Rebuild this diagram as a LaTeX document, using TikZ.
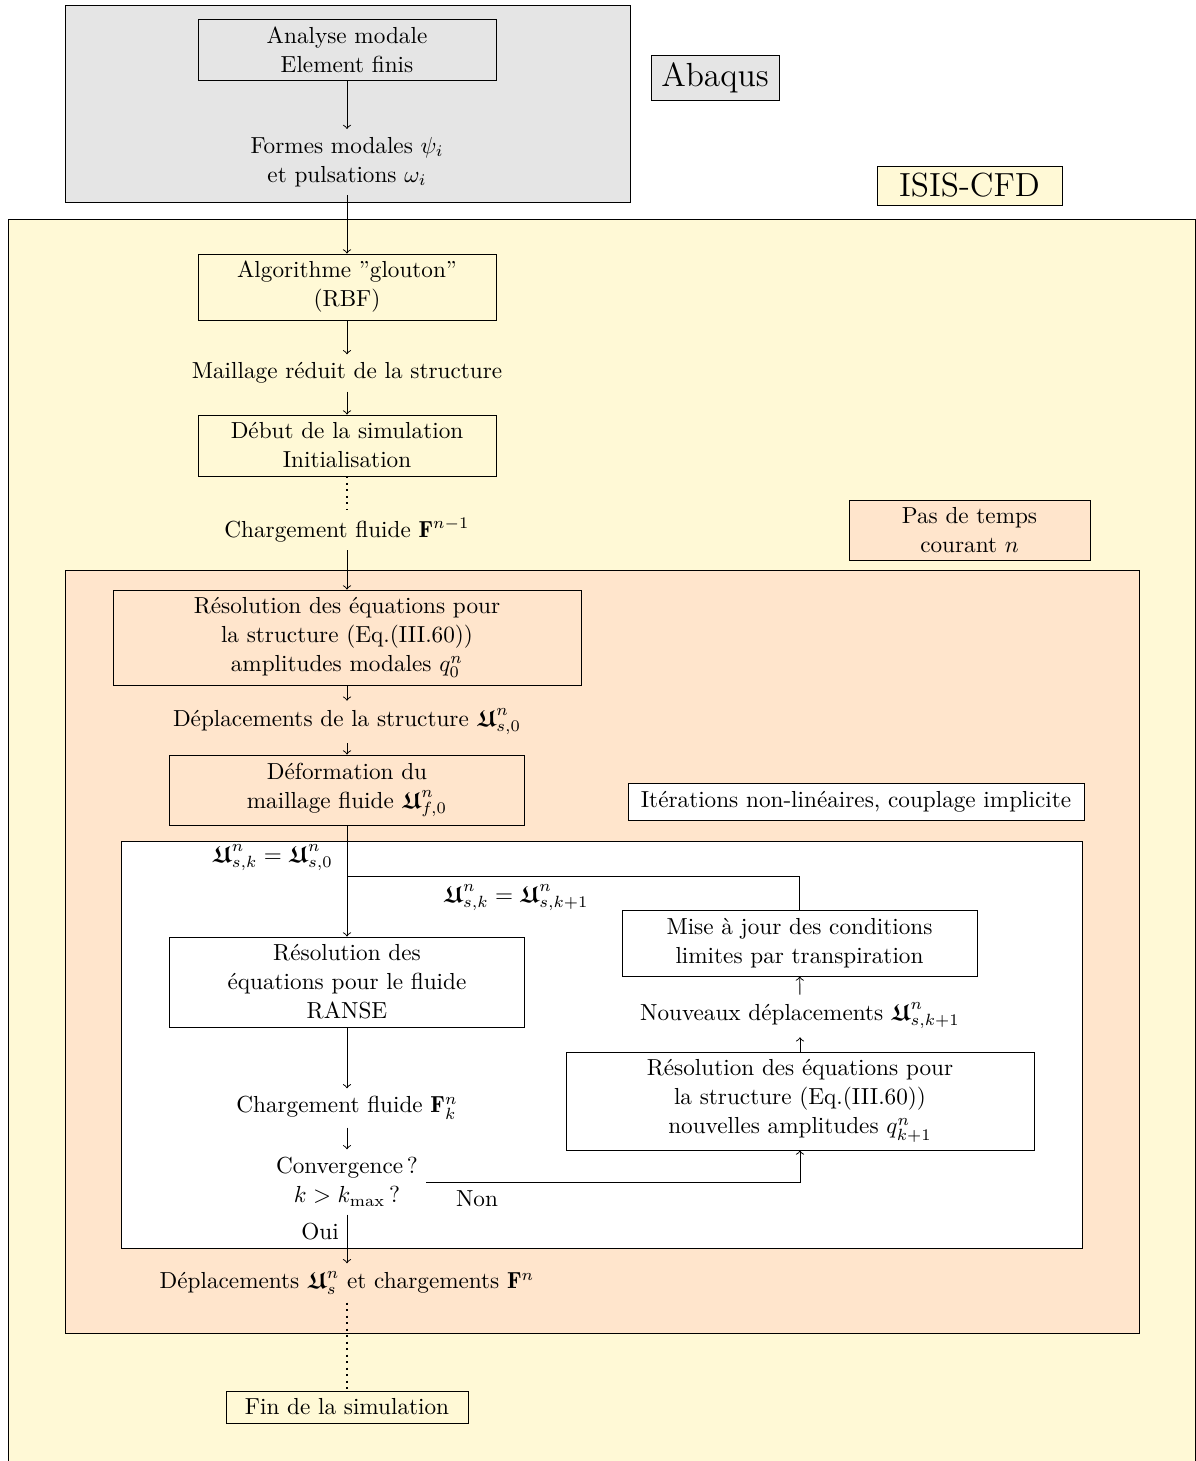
\documentclass[tikz,border=0pt]{standalone}
\usepackage{amsmath,amssymb,bm}
\usepackage{fontspec}
\definecolor{cream}{RGB}{255,249,214}
\definecolor{peach}{RGB}{255,229,204}
\definecolor{greyfill}{RGB}{229,229,229}
\newcommand\FU{\bm{\mathfrak{U}}}
\begin{document}
\begin{tikzpicture}[x=0.431pt,y=-0.431pt,
  every node/.style={font=\fontsize{10}{12.5}\selectfont, align=center},
  bx/.style 2 args={draw, minimum width={#1*0.431pt}, minimum height={#2*0.431pt}, inner sep=1pt},
  dots/.style={dotted, line width=0.8pt}]
\useasboundingbox (0,0) rectangle (1196,1461);
% background regions
\draw[fill=cream] (8,219) rectangle (1195,1490);
\draw[fill=greyfill] (65,5) rectangle (630,202);
\draw[fill=peach] (65,570) rectangle (1139,1333);
\draw[fill=white] (121,841) rectangle (1082,1248);
% nodes
\node[bx={298}{61}] (ana) at (347,49.5) {Analyse modale\\Element finis};
\node (formes) at (347,162) {Formes modales $\psi_i$\\et pulsations $\omega_i$};
\node[bx={128}{45}, fill=greyfill, font=\Large] (abaqus) at (715,77.5) {Abaqus};
\node[bx={185}{39}, fill=cream, font=\Large] (isis) at (969.5,185.5) {ISIS-CFD};
\node[bx={298}{66}] (algo) at (347,287) {Algorithme ”glouton”\\(RBF)};
\node (maill) at (347,373) {Maillage réduit de la structure};
\node[bx={298}{61}] (debut) at (347,445.5) {Début de la simulation\\Initialisation};
\node (charg1) at (347,530) {Chargement fluide $\mathbf{F}^{n-1}$};
\node[bx={241}{60}, fill=peach] (pas) at (969.5,530) {Pas de temps\\courant $n$};
\node[bx={468}{95}] (rs1) at (347,637.5) {Résolution des équations pour\\la structure (Eq.(III.60))\\amplitudes modales $q_0^n$};
\node (depl0) at (347,722) {Déplacements de la structure $\FU^n_{s,0}$};
\node[bx={355}{70}] (deform) at (347,790) {Déformation du\\maillage fluide $\FU^n_{f,0}$};
\node[bx={456}{37}, fill=white] (iter) at (856,801.5) {Itérations non-linéaires, couplage implicite};
\node[anchor=east] (lab1) at (341,858) {$\FU^n_{s,k} = \FU^n_{s,0}$};
\node (lab2) at (516,898) {$\FU^n_{s,k} = \FU^n_{s,k+1}$};
\node[bx={355}{90}] (fluide) at (347,982) {Résolution des\\équations pour le fluide\\RANSE};
\node (chk) at (347,1108) {Chargement fluide $\mathbf{F}^n_k$};
\node (conv) at (347,1182) {Convergence\,?\\$k > k_{\max}$\,?};
\node (non) at (477,1199) {Non};
\node (dfin) at (347,1283) {Déplacements $\FU^n_s$ et chargements $\mathbf{F}^n$};
\node[bx={242}{32}, fill=cream] (fin) at (347,1407) {Fin de la simulation};
\node[bx={355}{66}] (maj) at (799.5,943) {Mise à jour des conditions\\limites par transpiration};
\node (nouv) at (800,1016) {Nouveaux déplacements $\FU^n_{s,k+1}$};
\node[bx={468}{98}] (rs2) at (800,1101) {Résolution des équations pour\\la structure (Eq.(III.60))\\nouvelles amplitudes $q^n_{k+1}$};
% connectors
\draw[->] (ana) -- (formes);
\draw[->] (formes) -- (algo);
\draw[->] (algo) -- (maill);
\draw[->] (maill) -- (debut);
\draw[dots] (debut) -- (charg1);
\draw[->] (charg1) -- (rs1);
\draw[->] (rs1) -- (depl0);
\draw[->] (depl0) -- (deform);
\draw[->] (deform) -- (fluide);
\coordinate (join) at (347,876);
\draw (maj.north) |- (join);
\draw[->] (fluide) -- (chk);
\draw[->] (chk) -- (conv);
\draw[->] (conv.east) -| (rs2.south);
\draw[->] (conv) -- node[left, pos=0.35] (oui) {Oui} (dfin);
\draw[->] (rs2) -- (nouv);
\draw[->] (nouv) -- (maj);
\draw[dots] (dfin) -- (fin);
\end{tikzpicture}
\end{document}
